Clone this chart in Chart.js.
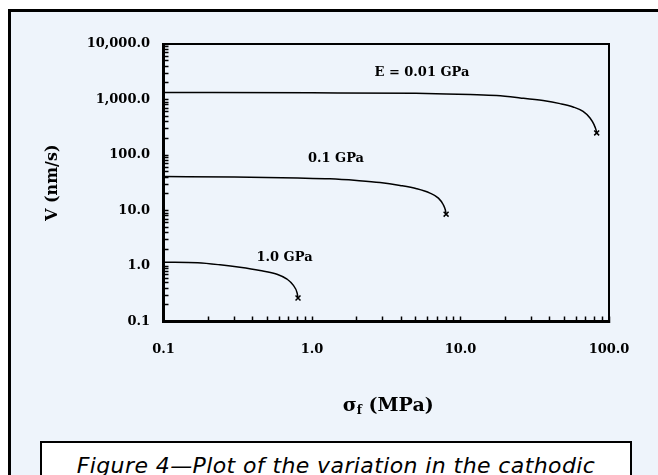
<!DOCTYPE html>
<html>
<head>
<meta charset="utf-8">
<script src="https://cdn.jsdelivr.net/npm/chart.js@4.4.1/dist/chart.umd.min.js"></script>
<style>
    html, body { margin: 0; padding: 0; background: #fff; overflow: hidden; }
    body { width: 658px; height: 475px; position: relative; }
    .frame {
        position: absolute; left: 8px; top: 9px; width: 700px; height: 520px;
        border-left: 3px solid #000; border-top: 3px solid #000;
        background: #eef4fb;
    }
    .plot { position: absolute; left: 0; top: 0; width: 658px; height: 440px; }
    .caption {
        position: absolute; left: 40px; top: 441px; width: 592px; height: 60px;
        border: 2px solid #000; background: #fff;
        font: italic 22px "DejaVu Sans", sans-serif; line-height: 22px;
        letter-spacing: 0.4px;
        text-align: center; padding-top: 12px; box-sizing: border-box;
        white-space: nowrap;
    }
</style>
</head>
<body>
<div class="frame"></div>
<div class="plot"><canvas id="velocityChart"></canvas></div>
<div class="caption">Figure 4—Plot of the variation in the cathodic</div>

<script>
// stress (MPa) and velocity (nm/s), one pair of arrays per modulus
const sigmaE001 = [0.1, 1, 5, 8, 11.6, 17.5, 25.2, 36, 46.8, 57.3, 66.9, 74.5, 79.3, 81.7, 82.6];
const velE001 = [1340, 1320, 1290, 1260, 1225, 1175, 1069, 955, 843, 735, 611, 465, 352, 286, 250];

const sigmaE01 = [0.1, 0.3, 0.8, 1.32, 2.0, 2.87, 3.92, 5.07, 6.23, 7.1, 7.66, 7.9, 8.0];
const velE01 = [41, 40, 38.5, 37.3, 34.8, 32.0, 28.3, 24.7, 20.6, 16.7, 12.7, 10.3, 8.6];

const sigmaE1 = [0.1, 0.17, 0.24, 0.327, 0.447, 0.581, 0.679, 0.745, 0.795, 0.805];
const velE1 = [1.17, 1.14, 1.05, 0.95, 0.83, 0.71, 0.58, 0.456, 0.323, 0.265];

const seriesNames = ['E = 0.01 GPa', '0.1 GPa', '1.0 GPa'];

const xTickValues = [0.1, 1, 10, 100];
const xTickLabels = ['0.1', '1.0', '10.0', '100.0'];
const yTickValues = [0.1, 1, 10, 100, 1000, 10000];
const yTickLabels = ['0.1', '1.0', '10.0', '100.0', '1,000.0', '10,000.0'];

// where each curve's name sits, in data units
const labelAnchors = [
    { x: 5.5, y: 3060 },
    { x: 1.45, y: 86 },
    { x: 0.653, y: 1.43 }
];

const tickFont = { family: 'DejaVu Serif', weight: 'bold', size: 13 };

function toPoints(xs, ys) {
    return xs.map((x, i) => ({ x: x, y: ys[i] }));
}

function decadeTicks(majors) {
    const ticks = [];
    for (let i = 0; i < majors.length - 1; i++) {
        for (let k = 1; k <= 9; k++) {
            ticks.push({ value: Number((majors[i] * k).toPrecision(6)) });
        }
    }
    ticks.push({ value: majors[majors.length - 1] });
    return ticks;
}

function labelFor(values, labels) {
    return function(value) {
        const i = values.findIndex(v => Math.abs(v - value) / v < 1e-6);
        return i >= 0 ? labels[i] : '';
    };
}

function curve(name, xs, ys) {
    const last = xs.length - 1;
    return {
        label: name,
        data: toPoints(xs, ys),
        borderColor: '#000',
        borderWidth: 1.5,
        cubicInterpolationMode: 'monotone',
        pointStyle: 'crossRot',
        pointRadius: ctx => ctx.dataIndex === last ? 3.5 : 0,
        pointBorderColor: '#000',
        pointBorderWidth: 1.5
    };
}

const frameAndText = {
    id: 'frameAndText',
    afterDatasetsDraw(chart) {
        const { ctx, chartArea: a, scales } = chart;
        ctx.save();
        ctx.strokeStyle = '#000';
        ctx.lineWidth = 2;
        ctx.strokeRect(a.left, a.top, a.right - a.left, a.bottom - a.top);

        ctx.fillStyle = '#000';
        ctx.textAlign = 'center';
        ctx.textBaseline = 'middle';
        ctx.font = 'bold 13px "DejaVu Serif"';
        labelAnchors.forEach((anchor, i) => {
            ctx.fillText(seriesNames[i], scales.x.getPixelForValue(anchor.x), scales.y.getPixelForValue(anchor.y));
        });

        // x title with subscript f
        const big = 'bold 19px "DejaVu Serif"';
        const small = 'bold 12px "DejaVu Serif"';
        ctx.textAlign = 'left';
        ctx.textBaseline = 'alphabetic';
        ctx.font = big;
        const wSigma = ctx.measureText('σ').width;
        const wRest = ctx.measureText(' (MPa)').width;
        ctx.font = small;
        const wSub = ctx.measureText('f').width;
        const cx = (a.left + a.right) / 2 + 2;
        let x = cx - (wSigma + wSub + wRest) / 2;
        const base = 411;
        ctx.font = big;
        ctx.fillText('σ', x, base);
        x += wSigma;
        ctx.font = small;
        ctx.fillText('f', x, base + 3);
        x += wSub;
        ctx.font = big;
        ctx.fillText(' (MPa)', x, base);
        ctx.restore();
    }
};

document.addEventListener('DOMContentLoaded', function() {
    initializeChart();
});

function initializeChart() {
    const ctx = document.getElementById('velocityChart').getContext('2d');
    window.velocityChart = new Chart(ctx, {
        type: 'line',
        data: {
            datasets: [
                curve(seriesNames[0], sigmaE001, velE001),
                curve(seriesNames[1], sigmaE01, velE01),
                curve(seriesNames[2], sigmaE1, velE1)
            ]
        },
        options: {
            responsive: true,
            maintainAspectRatio: false,
            animation: false,
            layout: {
                padding: { top: 44, right: 49, left: 20, bottom: 0 }
            },
            plugins: {
                legend: { display: false },
                tooltip: { enabled: false }
            },
            scales: {
                x: {
                    type: 'logarithmic',
                    position: 'bottom',
                    min: 0.1,
                    max: 100,
                    afterBuildTicks: scale => { scale.ticks = decadeTicks(xTickValues); },
                    afterFit: scale => { scale.height = 118.5; },
                    border: { color: '#000', width: 3 },
                    grid: {
                        drawOnChartArea: false,
                        tickLength: -5,
                        tickColor: '#000',
                        tickWidth: 1.5
                    },
                    ticks: {
                        autoSkip: false,
                        maxRotation: 0,
                        padding: 25.5,
                        color: '#000',
                        font: tickFont,
                        callback: labelFor(xTickValues, xTickLabels)
                    }
                },
                y: {
                    type: 'logarithmic',
                    position: 'left',
                    min: 0.1,
                    max: 10000,
                    afterBuildTicks: scale => { scale.ticks = decadeTicks(yTickValues); },
                    afterFit: scale => { scale.width = 143.5; },
                    border: { color: '#000', width: 3 },
                    grid: {
                        drawOnChartArea: false,
                        tickLength: -5,
                        tickColor: '#000',
                        tickWidth: 1.5
                    },
                    ticks: {
                        autoSkip: false,
                        padding: 18.5,
                        color: '#000',
                        font: tickFont,
                        callback: labelFor(yTickValues, yTickLabels)
                    },
                    title: {
                        display: true,
                        text: 'V (nm/s)',
                        color: '#000',
                        font: { family: 'DejaVu Serif', weight: 'bold', size: 16 },
                        padding: { top: 23, bottom: 0 }
                    }
                }
            }
        },
        plugins: [frameAndText]
    });
}
</script>
</body>
</html>
